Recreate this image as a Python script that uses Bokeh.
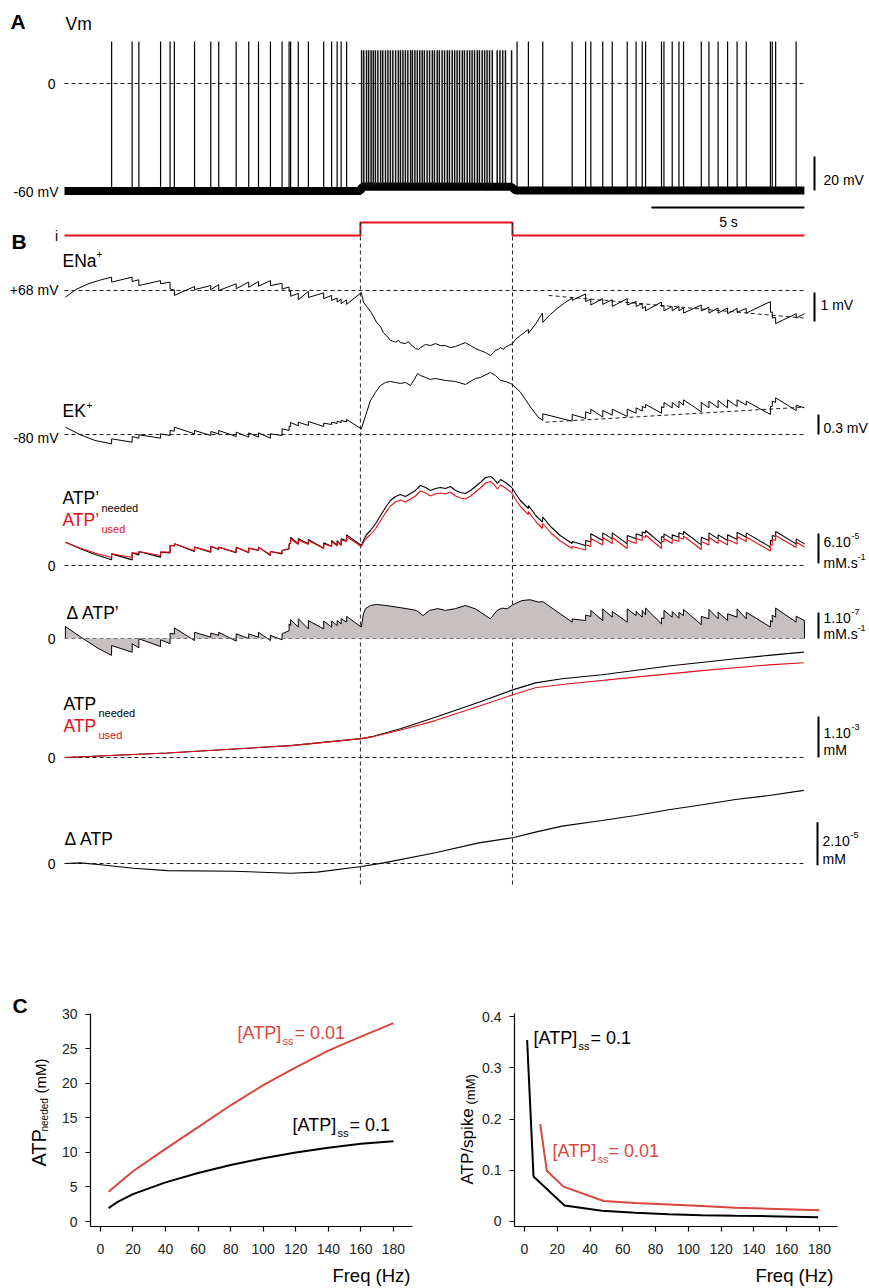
import math
from bokeh.plotting import figure
from bokeh.models import Range1d, Label, FixedTicker, CustomJSTickFormatter
from bokeh.layouts import column, row
from bokeh.embed import file_html
from bokeh.resources import INLINE

# =========================== DATA ===========================
T_END = 24.18                 # recording length (s)
STIM = [9.67, 14.64]          # current step on / off (s)
TIME_BAR = [19.18, 24.18]     # 5 s scale bar

# ---- A: Vm spike times (s)
spikes_pre = [1.54, 2.21, 2.43, 3.14, 3.45, 3.59, 4.25, 4.78, 5.04, 5.61, 6.02, 6.34,
              6.73, 7.11, 7.34, 7.39, 7.64, 7.97, 8.47, 8.73, 8.91, 9.04, 9.22]
spikes_post = [14.79, 15.16, 15.63, 16.59, 17.03, 17.20, 17.59, 17.90, 18.39, 18.68,
               18.88, 18.99, 19.51, 19.59, 19.86, 20.08, 20.23, 20.81, 21.06, 21.36,
               21.67, 21.98, 22.28, 23.07, 23.13, 23.24, 23.91]
spikes_burst = [9.71, 9.78, 9.87, 9.94, 10.02, 10.09, 10.16, 10.24, 10.33, 10.40, 10.49,
                10.57, 10.65, 10.73, 10.82, 10.91, 10.98, 11.06, 11.14, 11.22, 11.31,
                11.37, 11.45, 11.53, 11.61, 11.69, 11.76, 11.85, 11.93, 12.02, 12.09,
                12.18, 12.25, 12.34, 12.42, 12.51, 12.58, 12.67, 12.75, 12.83, 12.91,
                13.00, 13.07, 13.16, 13.24, 13.32, 13.40, 13.49, 13.56, 13.65, 13.73,
                13.81, 13.89, 13.98, 14.14, 14.23, 14.32, 14.41, 14.61]
SPIKE_PEAK = 24.7     # mV
BURST_PEAK = 19.5     # mV
vm_baseline = [(0.0, -63.2), (9.68, -63.2), (9.72, -60.6), (14.6, -60.8), (14.75, -63.0), (24.18, -63.0)]
VM_REF = 0            # mV dashed line
VM_BAR = 20           # mV

# ---- B: E_Na (mV)
ena = [(0.03, 67.77), (0.4, 68.05), (0.8, 68.24), (1.2, 68.37), (1.54, 68.46), (1.54, 68.29),
       (2.21, 68.46), (2.21, 68.31), (2.43, 68.37), (2.43, 68.17), (3.14, 68.34), (3.14, 68.23),
       (3.45, 68.29), (3.45, 68.05), (3.59, 68.02), (3.59, 67.83), (4.25, 68.14), (4.25, 68.03),
       (4.78, 68.17), (4.78, 68.03), (5.04, 68.2), (5.04, 68.0), (5.61, 68.23), (5.61, 68.06),
       (6.02, 68.29), (6.02, 68.11), (6.34, 68.31), (6.34, 68.15), (6.73, 68.34), (6.73, 68.17),
       (7.11, 68.25), (7.11, 68.05), (7.34, 68.12), (7.34, 67.97), (7.39, 67.99), (7.39, 67.8),
       (7.64, 67.9), (7.64, 67.68), (7.97, 67.97), (7.97, 67.76), (8.47, 67.92), (8.47, 67.72),
       (8.73, 67.83), (8.73, 67.66), (8.91, 67.74), (8.91, 67.6), (9.04, 67.7), (9.04, 67.55),
       (9.22, 67.68), (9.22, 67.52), (9.70, 67.93),
       (9.77, 67.6), (9.87, 67.45), (10.0, 67.28), (10.1, 67.1), (10.2, 66.9), (10.33, 66.75),
       (10.42, 66.55), (10.56, 66.4), (10.65, 66.28), (10.82, 66.22), (10.92, 66.28), (10.98, 66.2),
       (11.14, 66.17), (11.24, 66.24), (11.31, 66.14), (11.47, 66.0), (11.57, 65.97), (11.63, 66.03),
       (11.80, 66.14), (11.96, 66.1), (12.12, 66.17), (12.29, 66.1), (12.45, 66.1), (12.61, 66.03),
       (12.78, 66.07), (12.94, 66.14), (13.10, 66.2), (13.27, 66.1), (13.43, 66.0), (13.59, 65.93),
       (13.76, 65.86), (13.92, 65.76), (14.02, 65.86), (14.08, 65.93), (14.18, 65.97), (14.25, 66.03),
       (14.35, 65.97), (14.41, 66.05), (14.51, 66.1), (14.64, 66.17),
       (14.74, 66.31), (14.90, 66.45), (15.16, 66.66), (15.16, 66.52), (15.40, 66.85), (15.62, 67.22),
       (15.63, 66.9), (15.85, 67.15), (16.1, 67.38), (16.35, 67.58), (16.59, 67.74), (16.59, 67.66),
       (17.03, 67.88), (17.03, 67.62), (17.20, 67.7), (17.20, 67.5), (17.59, 67.72), (17.59, 67.52),
       (17.90, 67.68), (17.90, 67.45), (18.39, 67.72), (18.39, 67.5), (18.68, 67.62), (18.68, 67.45),
       (18.88, 67.55), (18.88, 67.38), (18.99, 67.45), (18.99, 67.3), (19.51, 67.6), (19.51, 67.45),
       (19.59, 67.48), (19.59, 67.3), (19.86, 67.45), (19.86, 67.3), (20.08, 67.45), (20.08, 67.3),
       (20.23, 67.4), (20.23, 67.22), (20.81, 67.5), (20.81, 67.3), (21.06, 67.42), (21.06, 67.22),
       (21.36, 67.4), (21.36, 67.22), (21.67, 67.4), (21.67, 67.2), (21.98, 67.38), (21.98, 67.25),
       (22.28, 67.38), (22.28, 67.22), (23.07, 67.62), (23.07, 67.25), (23.13, 67.26), (23.13, 67.05),
       (23.24, 67.07), (23.24, 66.86), (23.91, 67.2), (23.91, 67.05), (24.18, 67.2)]
ena_fit = [(15.82, 67.83), (24.15, 67.05)]
ENA_REF = 68
ENA_BAR = 1

# ---- B: E_K (mV)
ek = [(0.03, -79.89), (0.5, -80.0), (1.0, -80.09), (1.54, -80.14), (1.54, -80.065), (2.21, -80.115),
      (2.21, -80.03), (2.43, -80.055), (2.43, -80.005), (3.14, -80.055), (3.14, -79.99), (3.45, -80.015),
      (3.45, -79.94), (3.59, -79.95), (3.59, -79.89), (4.25, -79.99), (4.25, -79.94), (4.78, -80.015),
      (4.78, -79.955), (5.04, -79.99), (5.04, -79.94), (5.61, -80.03), (5.61, -79.965), (6.02, -80.04),
      (6.02, -79.975), (6.34, -80.04), (6.34, -79.975), (6.73, -80.055), (6.73, -79.99), (7.11, -80.015),
      (7.11, -79.915), (7.34, -79.94), (7.34, -79.875), (7.39, -79.88), (7.39, -79.82), (7.64, -79.87),
      (7.64, -79.815), (7.97, -79.865), (7.97, -79.805), (8.47, -79.88), (8.47, -79.83), (8.73, -79.85),
      (8.73, -79.815), (8.91, -79.835), (8.91, -79.8), (9.04, -79.82), (9.04, -79.79), (9.22, -79.81),
      (9.22, -79.775), (9.70, -79.915),
      (9.84, -79.715), (10.0, -79.49), (10.16, -79.37), (10.33, -79.265), (10.49, -79.22), (10.65, -79.205),
      (10.82, -79.22), (10.98, -79.235), (11.14, -79.22), (11.31, -79.265), (11.41, -79.19), (11.54, -79.085),
      (11.63, -79.115), (11.80, -79.145), (11.96, -79.175), (12.12, -79.16), (12.45, -79.19), (12.78, -79.205),
      (13.10, -79.25), (13.43, -79.16), (13.59, -79.145), (13.92, -79.07), (14.08, -79.115), (14.25, -79.19),
      (14.41, -79.205), (14.58, -79.235), (14.64, -79.25),
      (14.90, -79.365), (15.23, -79.59), (15.48, -79.74), (15.63, -79.79), (15.63, -79.69), (16.59, -79.80),
      (16.59, -79.70), (17.03, -79.76), (17.03, -79.66), (17.20, -79.69), (17.20, -79.62), (17.59, -79.74),
      (17.59, -79.64), (17.90, -79.71), (17.90, -79.62), (18.39, -79.73), (18.39, -79.62), (18.68, -79.68),
      (18.68, -79.6), (18.88, -79.65), (18.88, -79.58), (18.99, -79.6), (18.99, -79.55), (19.51, -79.68),
      (19.51, -79.58), (19.59, -79.6), (19.59, -79.52), (19.86, -79.6), (19.86, -79.52), (20.08, -79.6),
      (20.08, -79.5), (20.23, -79.56), (20.23, -79.48), (20.81, -79.66), (20.81, -79.52), (21.06, -79.6),
      (21.06, -79.5), (21.36, -79.6), (21.36, -79.49), (21.67, -79.6), (21.67, -79.48), (21.98, -79.58),
      (21.98, -79.48), (22.28, -79.56), (22.28, -79.5), (23.07, -79.7), (23.07, -79.58), (23.13, -79.58),
      (23.13, -79.5), (23.24, -79.52), (23.24, -79.45), (23.91, -79.64), (23.91, -79.56), (24.18, -79.6)]
ek_fit = [(15.72, -79.815), (24.15, -79.59)]
EK_REF = -80
EK_BAR = 0.3

# ---- B: ATP' needed / used (units of 1e-5 mM/s)
atpr_needed = [(0.03, 4.67), (0.5, 3.4), (1.0, 2.2), (1.54, 1.13), (1.54, 2.33), (2.21, 1.13), (2.21, 2.53),
               (2.43, 2.13), (2.43, 2.8), (3.14, 1.67), (3.14, 2.67), (3.45, 2.53), (3.45, 4.0), (3.59, 3.9),
               (3.59, 4.33), (4.25, 2.8), (4.25, 3.67), (4.78, 2.67), (4.78, 3.87), (5.04, 3.2), (5.04, 3.67),
               (5.61, 2.53), (5.61, 3.67), (6.02, 2.53), (6.02, 3.47), (6.34, 3.0), (6.34, 3.67), (6.73, 2.0),
               (6.73, 2.8), (7.11, 2.33), (7.11, 3.0), (7.34, 3.33), (7.34, 4.33), (7.39, 4.53), (7.39, 5.67),
               (7.64, 4.33), (7.64, 5.33), (7.97, 4.33), (7.97, 5.2), (8.47, 3.47), (8.47, 4.53), (8.73, 3.87),
               (8.73, 5.0), (8.91, 4.0), (8.91, 5.0), (9.04, 4.13), (9.04, 5.33), (9.22, 5.0), (9.22, 6.13),
               (9.70, 4.0),
               (9.77, 5.0), (9.87, 6.2), (10.0, 7.0), (10.17, 8.4), (10.33, 10.0), (10.49, 11.6), (10.65, 13.0),
               (10.82, 13.8), (10.98, 14.2), (11.14, 13.8), (11.31, 14.4), (11.47, 15.0), (11.63, 16.0),
               (11.80, 15.6), (11.96, 15.0), (12.12, 15.4), (12.29, 15.6), (12.45, 15.4), (12.61, 15.8),
               (12.78, 15.0), (12.94, 14.6), (13.10, 14.4), (13.27, 15.0), (13.43, 15.8), (13.59, 16.6),
               (13.76, 17.6), (13.92, 17.8), (14.02, 17.4), (14.15, 16.4), (14.25, 17.2), (14.41, 16.6),
               (14.58, 15.8), (14.64, 15.4),
               (14.74, 14.4), (14.90, 13.0), (15.16, 11.4), (15.16, 12.0), (15.40, 10.0), (15.62, 8.67),
               (15.63, 9.67), (15.9, 7.7), (16.2, 6.0), (16.59, 4.4), (16.59, 4.8), (17.03, 4.0), (17.03, 5.0),
               (17.20, 4.7), (17.20, 6.33), (17.59, 5.0), (17.59, 6.53), (17.90, 5.33), (17.90, 6.53),
               (18.39, 4.33), (18.39, 6.0), (18.68, 5.33), (18.68, 6.33), (18.88, 5.9), (18.88, 6.67),
               (18.99, 6.5), (18.99, 7.0), (19.51, 4.33), (19.51, 5.8), (19.59, 5.6), (19.59, 6.33),
               (19.86, 5.33), (19.86, 6.13), (20.08, 5.67), (20.08, 6.53), (20.23, 6.2), (20.23, 6.8),
               (20.81, 4.13), (20.81, 5.67), (21.06, 5.0), (21.06, 6.53), (21.36, 5.33), (21.36, 6.13),
               (21.67, 5.0), (21.67, 6.13), (21.98, 5.2), (21.98, 6.67), (22.28, 5.67), (22.28, 6.53),
               (23.07, 3.67), (23.07, 5.0), (23.13, 4.9), (23.13, 6.0), (23.24, 5.8), (23.24, 6.8),
               (23.91, 4.33), (23.91, 5.33), (24.18, 4.33)]
atpr_used = [(0.03, 4.67), (0.5, 3.5), (1.0, 2.5), (1.54, 1.6), (1.54, 2.33), (2.21, 1.6), (2.21, 2.53),
             (2.43, 2.4), (2.43, 2.8), (3.14, 2.0), (3.14, 2.67), (3.45, 2.7), (3.45, 4.0), (3.59, 3.95),
             (3.59, 4.33), (4.25, 2.95), (4.25, 3.67), (4.78, 2.8), (4.78, 3.87), (5.04, 3.3), (5.04, 3.67),
             (5.61, 2.65), (5.61, 3.67), (6.02, 2.65), (6.02, 3.47), (6.34, 3.1), (6.34, 3.67), (6.73, 2.15),
             (6.73, 2.8), (7.11, 2.45), (7.11, 3.0), (7.34, 3.4), (7.34, 4.2), (7.39, 4.4), (7.39, 5.4),
             (7.64, 4.2), (7.64, 5.1), (7.97, 4.2), (7.97, 5.0), (8.47, 3.4), (8.47, 4.3), (8.73, 3.8),
             (8.73, 4.8), (8.91, 3.9), (8.91, 4.8), (9.04, 4.0), (9.04, 5.1), (9.22, 4.8), (9.22, 5.8),
             (9.70, 3.8),
             (9.77, 4.6), (9.87, 5.5), (10.0, 6.2), (10.17, 7.4), (10.33, 9.0), (10.49, 10.5), (10.65, 11.9),
             (10.82, 12.7), (10.98, 13.1), (11.14, 12.7), (11.31, 13.3), (11.47, 13.9), (11.63, 14.9),
             (11.80, 14.5), (11.96, 13.9), (12.12, 14.3), (12.29, 14.5), (12.45, 14.3), (12.61, 14.7),
             (12.78, 13.9), (12.94, 13.5), (13.10, 13.3), (13.27, 13.9), (13.43, 14.7), (13.59, 15.5),
             (13.76, 16.5), (13.92, 16.8), (14.02, 16.3), (14.15, 15.3), (14.25, 16.1), (14.41, 15.5),
             (14.58, 14.7), (14.64, 14.3),
             (14.74, 13.2), (14.90, 11.8), (15.16, 10.2), (15.16, 10.8), (15.40, 8.8), (15.62, 7.4),
             (15.63, 8.4), (15.9, 6.5), (16.2, 4.9), (16.59, 3.4), (16.59, 3.8), (17.03, 3.1), (17.03, 4.1),
             (17.20, 3.8), (17.20, 5.4), (17.59, 4.1), (17.59, 5.6), (17.90, 4.4), (17.90, 5.6),
             (18.39, 3.4), (18.39, 5.1), (18.68, 4.4), (18.68, 5.4), (18.88, 5.0), (18.88, 5.8),
             (18.99, 5.6), (18.99, 6.1), (19.51, 3.4), (19.51, 4.9), (19.59, 4.7), (19.59, 5.4),
             (19.86, 4.4), (19.86, 5.2), (20.08, 4.8), (20.08, 5.6), (20.23, 5.3), (20.23, 5.9),
             (20.81, 3.2), (20.81, 4.8), (21.06, 4.1), (21.06, 5.6), (21.36, 4.4), (21.36, 5.2),
             (21.67, 4.1), (21.67, 5.2), (21.98, 4.3), (21.98, 5.8), (22.28, 4.8), (22.28, 5.7),
             (23.07, 2.9), (23.07, 4.2), (23.13, 4.1), (23.13, 5.2), (23.24, 5.0), (23.24, 6.0),
             (23.91, 3.6), (23.91, 4.7), (24.18, 3.7)]
ATPR_BAR = 6          # 6.10^-5 mM/s

# ---- B: delta ATP' (units of 1e-7 mM/s)
d_atpr = [(0.03, 0.46), (0.6, 0.0), (1.1, -0.38), (1.54, -0.65), (1.54, -0.27), (2.21, -0.53), (2.21, -0.2),
          (2.43, -0.36), (2.43, -0.01), (3.14, -0.31), (3.14, -0.05), (3.45, -0.2), (3.45, 0.2), (3.59, 0.17),
          (3.59, 0.41), (4.25, -0.08), (4.25, 0.24), (4.78, 0.05), (4.78, 0.21), (5.04, 0.12), (5.04, 0.24),
          (5.61, -0.1), (5.61, 0.18), (6.02, 0.0), (6.02, 0.18), (6.34, 0.05), (6.34, 0.24), (6.73, -0.08),
          (6.73, 0.12), (7.11, -0.05), (7.11, 0.18), (7.34, 0.3), (7.34, 0.56), (7.39, 0.5), (7.39, 0.72),
          (7.64, 0.44), (7.64, 0.76), (7.97, 0.37), (7.97, 0.69), (8.47, 0.37), (8.47, 0.67), (8.73, 0.44),
          (8.73, 0.67), (8.91, 0.5), (8.91, 0.69), (9.04, 0.56), (9.04, 0.76), (9.22, 0.63), (9.22, 0.85),
          (9.70, 0.44),
          (9.77, 0.96), (9.84, 1.15), (10.0, 1.27), (10.2, 1.31), (10.5, 1.27), (10.84, 1.21), (11.17, 1.15),
          (11.5, 1.08), (11.72, 0.88), (11.93, 1.08), (12.2, 1.15), (12.45, 1.08), (12.78, 1.15),
          (13.10, 1.27), (13.43, 1.14), (13.76, 0.88), (13.92, 0.76), (14.14, 1.08), (14.30, 1.17),
          (14.47, 1.14), (14.65, 1.30), (14.95, 1.46), (15.22, 1.49), (15.49, 1.40), (15.63, 1.42),
          (16.59, 0.63), (16.59, 0.75), (17.03, 0.69), (17.03, 0.9), (17.20, 0.85), (17.20, 1.08),
          (17.59, 0.69), (17.59, 1.14), (17.90, 0.82), (17.90, 1.04), (18.39, 0.63), (18.39, 1.14),
          (18.68, 0.88), (18.68, 1.04), (18.88, 0.82), (18.88, 1.08), (18.99, 0.91), (18.99, 1.17),
          (19.51, 0.56), (19.51, 0.8), (19.59, 0.76), (19.59, 1.08), (19.86, 0.82), (19.86, 1.04),
          (20.08, 0.78), (20.08, 1.01), (20.23, 0.88), (20.23, 1.12), (20.81, 0.53), (20.81, 0.85),
          (21.06, 0.76), (21.06, 1.12), (21.36, 0.76), (21.36, 1.01), (21.67, 0.69), (21.67, 0.95),
          (21.98, 0.82), (21.98, 1.14), (22.28, 0.76), (22.28, 1.01), (23.07, 0.44), (23.07, 0.7),
          (23.13, 0.63), (23.13, 0.9), (23.24, 0.82), (23.24, 1.17), (23.91, 0.63), (23.91, 0.86),
          (24.18, 0.69)]
D_ATPR_BAR = 1        # 1.10^-7 mM/s

# ---- B: ATP needed / used (units of 1e-3 mM)
atp_needed = [(0.03, 0.0), (3.36, 0.11), (7.39, 0.29), (9.70, 0.46), (10.1, 0.52), (10.98, 0.70),
              (12.12, 0.98), (13.54, 1.35), (14.65, 1.65), (15.39, 1.82), (16.26, 1.92), (17.57, 2.02),
              (19.75, 2.23), (21.93, 2.41), (23.01, 2.49), (24.16, 2.57)]
atp_used = [(0.03, 0.0), (3.36, 0.11), (7.39, 0.29), (9.70, 0.46), (10.1, 0.51), (10.98, 0.67),
            (12.12, 0.90), (13.54, 1.25), (14.65, 1.53), (15.39, 1.70), (16.48, 1.80), (18.66, 1.96),
            (20.84, 2.12), (23.02, 2.26), (24.16, 2.31)]
ATP_BAR = 1           # 1.10^-3 mM

# ---- B: delta ATP (units of 1e-5 mM)
d_atp = [(0.03, 0.0), (0.52, 0.03), (1.18, -0.06), (2.26, -0.22), (3.36, -0.33), (5.53, -0.36),
         (7.39, -0.45), (8.26, -0.40), (9.70, -0.14), (10.43, 0.03), (12.12, 0.5), (13.54, 0.96),
         (14.65, 1.2), (15.39, 1.46), (16.26, 1.74), (17.57, 2.0), (18.66, 2.23), (19.75, 2.5),
         (20.84, 2.73), (21.93, 2.98), (23.02, 3.16), (24.16, 3.40)]
D_ATP_BAR = 2         # 2.10^-5 mM

# ---- C left: ATP needed (mM) vs frequency
freq_needed_01 = [5, 10, 20, 40, 60, 80, 100, 120, 140, 160, 180]
atp_needed_ss01 = [1.94, 2.76, 3.97, 5.67, 7.03, 8.19, 9.16, 9.99, 10.66, 11.25, 11.63]
freq_needed_001 = [5, 20, 40, 60, 80, 100, 120, 140, 160, 180]
atp_needed_ss001 = [4.31, 7.27, 10.52, 13.67, 16.82, 19.73, 22.3, 24.72, 26.76, 28.7]
left_xticks = [0, 20, 40, 60, 80, 100, 120, 140, 160, 180]
left_yticks = [0, 5, 10, 15, 20, 25, 30]

# ---- C right: ATP per spike (mM) vs frequency
freq_spike_01 = [1.6, 5.5, 24.4, 47.2, 67.6, 88, 108, 128.7, 149, 179.2]
atp_spike_ss01 = [0.354, 0.088, 0.031, 0.021, 0.017, 0.014, 0.012, 0.011, 0.0104, 0.0085]
freq_spike_001 = [9.6, 13.6, 23.8, 48.3, 67.6, 88, 108, 128.7, 149, 180]
atp_spike_ss001 = [0.19, 0.099, 0.068, 0.040, 0.036, 0.033, 0.030, 0.027, 0.025, 0.022]
right_xticks = [0, 20, 40, 60, 80, 100, 120, 140, 160, 180]
right_yticks = [0, 0.1, 0.2, 0.3, 0.4]

# =========================== STYLE / LAYOUT ===========================
FONT = "Liberation Sans"
RED = "#e3101a"
RED_C = "#d9473e"
FILL = "#c6c0c0"
DASH = "4 3"
W = 869
H = 1288           # the background figure covers the whole page
C_H = 313          # height of the panel C plots (bottom of the page)
X0 = 64            # pixel of t = 0
PX_PER_S = 30.6


def xs(pts):
    return [p[0] for p in pts]


def ys(pts):
    return [p[1] for p in pts]


def band(v0, y0, k):
    # range placing value v0 at pixel y0 (from top) with k px per unit
    return Range1d(v0 - (H - y0) / k, v0 + y0 / k)


top = figure(width=W, height=H, output_backend="svg", toolbar_location=None,
             x_range=Range1d(-X0 / PX_PER_S, (W - X0) / PX_PER_S),
             y_range=Range1d(H, 0), x_axis_type=None, y_axis_type=None,
             min_border=0, min_border_left=0, min_border_right=0, min_border_top=0, min_border_bottom=0)
top.outline_line_color = None
top.background_fill_color = "white"
top.border_fill_color = "white"
top.extra_x_ranges = {"px": Range1d(0, W)}
top.extra_y_ranges = {
    "vm": band(0, 83, 1.7),
    "stim": band(0, 235, 13),
    "ena": band(68, 290, 29),
    "ek": band(-80, 434, 66.7),
    "atpr": band(0, 565, 5),
    "datpr": band(0, 638, 26),
    "atp": band(0, 757, 41),
    "datp": band(0, 863, 21.5),
}


def ref_line(rng, v, color="#222"):
    top.line([0, T_END], [v, v], y_range_name=rng, line_dash=DASH, line_color=color, line_width=1)


def vbar(rng, xpix, v0, v1):
    top.segment(x0=[xpix], y0=[v0], x1=[xpix], y1=[v1], x_range_name="px", y_range_name=rng,
                line_color="black", line_width=2)


def lab(fig, x, y, text, size, color="black", align="left", bold=False, angle=0.0, yr=None):
    kw = dict(x=x, y=y, text=text, text_font=FONT, text_font_size=f"{size}px", text_color=color,
              text_align=align, text_baseline="middle", angle=angle, x_range_name="px")
    if yr:
        kw["y_range_name"] = yr
    if bold:
        kw["text_font_style"] = "bold"
    fig.add_layout(Label(**kw))


# --- A: Vm
ref_line("vm", VM_REF)
top.line(xs(vm_baseline), ys(vm_baseline), y_range_name="vm", line_color="black", line_width=8)
pre_post = spikes_pre + spikes_post
top.segment(x0=pre_post, y0=[-63.0] * len(pre_post), x1=pre_post, y1=[SPIKE_PEAK] * len(pre_post),
            y_range_name="vm", line_color="black", line_width=1.2)
top.segment(x0=spikes_burst, y0=[-60.6] * len(spikes_burst), x1=spikes_burst,
            y1=[BURST_PEAK] * len(spikes_burst), y_range_name="vm", line_color="#111", line_width=1.5)
vbar("vm", 814, -63, -63 + VM_BAR)
top.line(TIME_BAR, [207, 207], line_color="black", line_width=2)

# --- B: stimulus
top.line([0, STIM[0], STIM[0], STIM[1], STIM[1], T_END], [0, 0, 1, 1, 0, 0], y_range_name="stim",
         line_color=RED, line_width=2)
top.segment(x0=STIM, y0=[222, 222], x1=STIM, y1=[885, 885], line_dash=DASH, line_color="#222", line_width=1)

# ENa
ref_line("ena", ENA_REF)
top.line(xs(ena_fit), ys(ena_fit), y_range_name="ena", line_dash=DASH, line_color="#222")
top.line(xs(ena), ys(ena), y_range_name="ena", line_color="black", line_width=1)
vbar("ena", 814, ENA_REF - 0.07 - ENA_BAR, ENA_REF - 0.07)

# EK
ref_line("ek", EK_REF)
top.line(xs(ek_fit), ys(ek_fit), y_range_name="ek", line_dash=DASH, line_color="#222")
top.line(xs(ek), ys(ek), y_range_name="ek", line_color="black", line_width=1)
vbar("ek", 818, EK_REF, EK_REF + EK_BAR)

# ATP'
ref_line("atpr", 0)
top.line(xs(atpr_needed), ys(atpr_needed), y_range_name="atpr", line_color="black", line_width=1.1)
top.line(xs(atpr_used), ys(atpr_used), y_range_name="atpr", line_color=RED, line_width=1.1)
vbar("atpr", 818, 0.4, 0.4 + ATPR_BAR)

# delta ATP'
top.varea(x=xs(d_atpr), y1=[0] * len(d_atpr), y2=ys(d_atpr), y_range_name="datpr", fill_color=FILL)
top.line([d_atpr[0][0]] + xs(d_atpr) + [d_atpr[-1][0]], [0] + ys(d_atpr) + [0], y_range_name="datpr",
         line_color="black", line_width=1)
ref_line("datpr", 0, color="#777")
vbar("datpr", 818, 0, D_ATPR_BAR)

# ATP
ref_line("atp", 0)
top.line(xs(atp_needed), ys(atp_needed), y_range_name="atp", line_color="black", line_width=1.1)
top.line(xs(atp_used), ys(atp_used), y_range_name="atp", line_color=RED, line_width=1.1)
vbar("atp", 818, 0, ATP_BAR)

# delta ATP
ref_line("datp", 0)
top.line(xs(d_atp), ys(d_atp), y_range_name="datp", line_color="black", line_width=1.1)
vbar("datp", 817, -0.08, -0.08 + D_ATP_BAR)

# --- labels (page pixel coordinates)
lab(top, 10, 21, "A", 21, bold=True)
lab(top, 65, 23, "Vm", 17.5)
lab(top, 55, 83, "0", 14, align="right")
lab(top, 58, 191, "-60 mV", 14, align="right")
lab(top, 823, 179, "20 mV", 14)
lab(top, 728, 221, "5 s", 14, align="center")
lab(top, 11, 241, "B", 21, bold=True)
lab(top, 56, 235, "i", 14, align="center")
lab(top, 62, 260, "ENa", 17.5)
lab(top, 96, 253, "+", 10)
lab(top, 58, 289, "+68 mV", 14, align="right")
lab(top, 820, 304, "1 mV", 14)
lab(top, 62, 410, "EK", 17.5)
lab(top, 86, 404, "+", 10)
lab(top, 58, 437, "-80 mV", 14, align="right")
lab(top, 823, 427, "0.3 mV", 14)
lab(top, 62, 497, "ATP\u2019", 17.5)
lab(top, 101, 507, "needed", 11)
lab(top, 62, 519, "ATP\u2019", 17.5, color=RED)
lab(top, 101, 528, "used", 11, color=RED)
lab(top, 55, 565, "0", 14, align="right")
lab(top, 823, 541, "6.10", 14)
lab(top, 851, 535, "-5", 9)
lab(top, 823, 562, "mM.s", 14)
lab(top, 857, 556, "-1", 9)
lab(top, 66, 612, "\u0394 ATP\u2019", 17.5)
lab(top, 55, 638, "0", 14, align="right")
lab(top, 823, 617, "1.10", 14)
lab(top, 851, 611, "-7", 9)
lab(top, 823, 633, "mM.s", 14)
lab(top, 857, 627, "-1", 9)
lab(top, 63, 703, "ATP", 17.5)
lab(top, 98, 712, "needed", 11)
lab(top, 63, 725, "ATP", 17.5, color=RED)
lab(top, 98, 734, "used", 11, color=RED)
lab(top, 55, 757, "0", 14, align="right")
lab(top, 823, 732, "1.10", 14)
lab(top, 851, 726, "-3", 9)
lab(top, 823, 749, "mM", 14)
lab(top, 64, 838, "\u0394 ATP", 17.5)
lab(top, 55, 863, "0", 14, align="right")
lab(top, 822, 840, "2.10", 14)
lab(top, 850, 834, "-5", 9)
lab(top, 822, 858, "mM", 14)

# panel C texts that sit outside the C plot frames
lab(top, 12, 1005, "C", 21, bold=True)
lab(top, 38.5, 1166, "ATP", 20, angle=math.pi / 2)
lab(top, 44, 1131, "needed", 10, angle=math.pi / 2)
lab(top, 40, 1093, "(mM)", 15, angle=math.pi / 2)
lab(top, 410, 1275, "Freq (Hz)", 18.5, align="right")
lab(top, 467, 1184, "ATP/spike", 17, angle=math.pi / 2)
lab(top, 470, 1104, "(mM)", 13, angle=math.pi / 2)
lab(top, 833, 1275, "Freq (Hz)", 18.5, align="right")


# =========================== C ===========================
def cfig(width, xr, yr, bl, br, px0, px1, xticks, yticks):
    f = figure(width=width, height=C_H, output_backend="svg", toolbar_location=None,
               x_range=Range1d(*xr), y_range=Range1d(*yr),
               min_border_left=bl, min_border_right=br, min_border_top=38, min_border_bottom=62)
    f.outline_line_color = None
    f.background_fill_alpha = 0
    f.border_fill_alpha = 0
    f.xgrid.visible = False
    f.ygrid.visible = False
    f.extra_x_ranges = {"px": Range1d(px0, px1)}
    f.extra_y_ranges = {"py": Range1d(1226, 1013)}
    f.xaxis.ticker = FixedTicker(ticks=xticks, minor_ticks=[])
    f.yaxis.ticker = FixedTicker(ticks=yticks, minor_ticks=[])
    for ax in (f.xaxis[0], f.yaxis[0]):
        ax.axis_line_width = 1.2
        ax.axis_line_color = "black"
        ax.major_tick_line_width = 1.2
        ax.major_tick_line_color = "black"
        ax.major_tick_out = 5
        ax.major_tick_in = 0
        ax.minor_tick_line_color = None
        ax.major_label_text_font = FONT
        ax.major_label_text_color = "#222"
        ax.major_label_text_font_size = "14px"
    f.xaxis.major_label_standoff = 12
    f.yaxis.major_label_standoff = 8
    return f


left = cfig(435, (-6.1, 191.7), (-0.72, 30.1), 90, 23, 90, 412, left_xticks, left_yticks)
left.line(freq_needed_001, atp_needed_ss001, line_color=RED_C, line_width=2)
left.line(freq_needed_01, atp_needed_ss01, line_color="black", line_width=2)
lab(left, 237, 1032, "[ATP]", 18, color=RED_C, yr="py")
lab(left, 282, 1040, "ss", 11, color=RED_C, yr="py")
lab(left, 294, 1032, "= 0.01", 18, color=RED_C, yr="py")
lab(left, 292, 1124, "[ATP]", 18, yr="py")
lab(left, 337, 1132, "ss", 11, yr="py")
lab(left, 349, 1124, "= 0.1", 18, yr="py")

right = cfig(434, (-6.1, 191.0), (-0.0098, 0.406), 79, 32, 514, 837, right_xticks, right_yticks)
right.yaxis.formatter = CustomJSTickFormatter(code="return tick == 0 ? '0' : tick.toFixed(1);")
right.line(freq_spike_001, atp_spike_ss001, line_color=RED_C, line_width=2)
right.line(freq_spike_01, atp_spike_ss01, line_color="black", line_width=2)
lab(right, 533, 1037, "[ATP]", 18, yr="py")
lab(right, 578, 1045, "ss", 11, yr="py")
lab(right, 590, 1037, "= 0.1", 18, yr="py")
lab(right, 552, 1150, "[ATP]", 18, color=RED_C, yr="py")
lab(right, 597, 1158, "ss", 11, color=RED_C, yr="py")
lab(right, 608, 1150, "= 0.01", 18, color=RED_C, yr="py")

# the C row is pulled up over the bottom of the background figure
c_row = row(left, right, spacing=0, margin=(-C_H, 0, 0, 0))
layout = column(top, c_row, spacing=0)

html = file_html(layout, INLINE, title="ATP")
html = html.replace("<body>", '<body style="margin:0;padding:0;">')
open("out.html", "w").write(html)
